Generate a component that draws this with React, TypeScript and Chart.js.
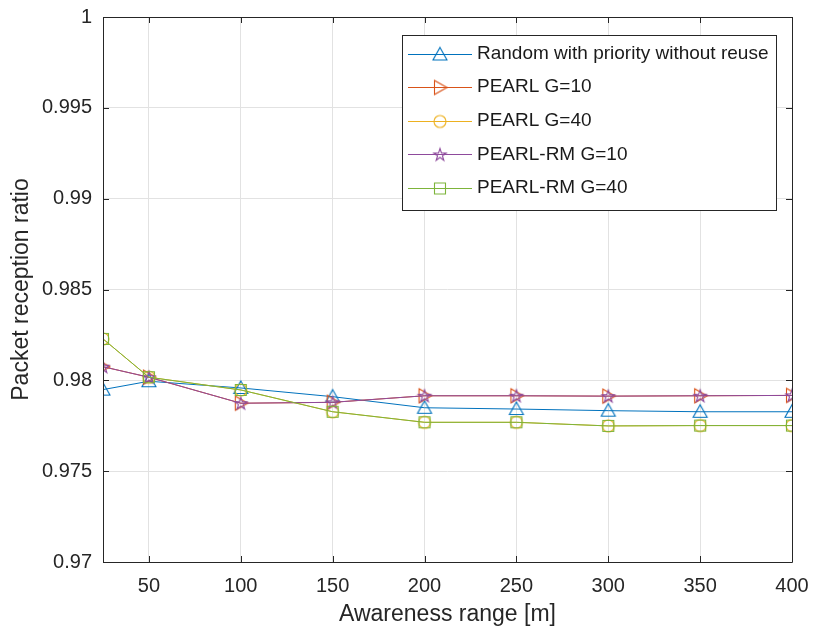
import React, { useEffect, useRef } from "react";
import { Chart, registerables } from "chart.js";

Chart.register(...registerables);

const awarenessRange = [25, 50, 100, 150, 200, 250, 300, 350, 400];
const randomPriority = [0.97949, 0.97995, 0.97958, 0.9791, 0.97849, 0.97842, 0.97833, 0.97827, 0.97827];
const pearlG10 = [0.98075, 0.98017, 0.97874, 0.97879, 0.97915, 0.97915, 0.97913, 0.97915, 0.97917];
const pearlG40 = [0.98228, 0.98017, 0.97947, 0.97827, 0.97769, 0.97769, 0.97749, 0.97751, 0.97751];
const pearlRMG10 = [0.98075, 0.98017, 0.97874, 0.97879, 0.97915, 0.97915, 0.97913, 0.97915, 0.97917];
const pearlRMG40 = [0.98228, 0.98017, 0.97947, 0.97827, 0.97769, 0.97769, 0.97749, 0.97751, 0.97751];

const seriesNames = [
  "Random with priority without reuse",
  "PEARL G=10",
  "PEARL G=40",
  "PEARL-RM G=10",
  "PEARL-RM G=40",
];
const seriesColors = ["#0072BD", "#D95319", "#EDB120", "#8E4A9C", "#7DB43A"];
const seriesMarkers = ["triUp", "triRight", "circle", "pentagram", "square"];

const xTicks = [50, 100, 150, 200, 250, 300, 350, 400];
const xTickLabels = ["50", "100", "150", "200", "250", "300", "350", "400"];
const yTicks = [0.97, 0.975, 0.98, 0.985, 0.99, 0.995, 1];
const yTickLabels = ["0.97", "0.975", "0.98", "0.985", "0.99", "0.995", "1"];

const FONT = "'Liberation Sans', Arial, Helvetica, sans-serif";
const AXIS_COLOR = "#262626";

function makeMarker(kind: string, color: string): HTMLCanvasElement {
  const c = document.createElement("canvas");
  c.width = 22;
  c.height = 22;
  const ctx = c.getContext("2d")!;
  ctx.strokeStyle = color;
  ctx.lineWidth = 1.1;
  ctx.lineJoin = "miter";
  const cx = 11, cy = 11;
  ctx.beginPath();
  if (kind === "triUp") {
    ctx.moveTo(cx, cy - 7);
    ctx.lineTo(cx + 7, cy + 5.5);
    ctx.lineTo(cx - 7, cy + 5.5);
    ctx.closePath();
  } else if (kind === "triRight") {
    ctx.moveTo(cx + 7, cy);
    ctx.lineTo(cx - 5.5, cy + 7);
    ctx.lineTo(cx - 5.5, cy - 7);
    ctx.closePath();
  } else if (kind === "circle") {
    ctx.arc(cx, cy, 6, 0, Math.PI * 2);
  } else if (kind === "square") {
    ctx.rect(cx - 5.5, cy - 5.5, 11, 11);
  } else if (kind === "pentagram") {
    const R = 6.5, r = R * 0.382;
    for (let i = 0; i < 10; i++) {
      const a = -Math.PI / 2 + (i * Math.PI) / 5;
      const rad = i % 2 === 0 ? R : r;
      const px = cx + rad * Math.cos(a), py = cy + 0.5 + rad * Math.sin(a);
      if (i === 0) ctx.moveTo(px, py);
      else ctx.lineTo(px, py);
    }
    ctx.closePath();
  }
  ctx.stroke();
  return c;
}

export default function App() {
  const ref = useRef<HTMLCanvasElement | null>(null);

  useEffect(() => {
    document.body.style.margin = "0";
    const canvas = ref.current!;
    const markers = seriesMarkers.map((m, i) => makeMarker(m, seriesColors[i]));
    const seriesData = [randomPriority, pearlG10, pearlG40, pearlRMG10, pearlRMG40];

    const boxPlugin = {
      id: "matlabBox",
      afterDraw(chart: any) {
        const { ctx, chartArea } = chart;
        const { left, right, top, bottom } = chartArea;
        const xs = chart.scales.x;
        const ys = chart.scales.y;
        ctx.save();
        ctx.strokeStyle = AXIS_COLOR;
        ctx.lineWidth = 1;
        ctx.beginPath();
        ctx.rect(Math.round(left) + 0.5, Math.round(top) + 0.5, Math.round(right - left), Math.round(bottom - top));
        ctx.stroke();
        const tl = 6;
        ctx.beginPath();
        xTicks.forEach((v) => {
          const px = Math.round(xs.getPixelForValue(v)) + 0.5;
          ctx.moveTo(px, bottom);
          ctx.lineTo(px, bottom - tl);
          ctx.moveTo(px, top);
          ctx.lineTo(px, top + tl);
        });
        yTicks.forEach((v) => {
          const py = Math.round(ys.getPixelForValue(v)) + 0.5;
          ctx.moveTo(left, py);
          ctx.lineTo(left + tl, py);
          ctx.moveTo(right, py);
          ctx.lineTo(right - tl, py);
        });
        ctx.stroke();

        // legend
        const lx = 402.5, ly = 35.5, lw = 374, lh = 175;
        ctx.fillStyle = "#ffffff";
        ctx.fillRect(lx, ly, lw, lh);
        ctx.strokeStyle = AXIS_COLOR;
        ctx.strokeRect(lx, ly, lw, lh);
        ctx.font = `19px ${FONT}`;
        ctx.textBaseline = "middle";
        ctx.textAlign = "left";
        seriesNames.forEach((name, i) => {
          const y = 53.5 + i * 33.6;
          ctx.strokeStyle = seriesColors[i];
          ctx.lineWidth = 1;
          ctx.beginPath();
          ctx.moveTo(408, Math.round(y) + 0.5);
          ctx.lineTo(472, Math.round(y) + 0.5);
          ctx.stroke();
          const m = markers[i];
          ctx.drawImage(m, 440 - m.width / 2, Math.round(y) + 0.5 - m.height / 2);
          ctx.fillStyle = "#1a1a1a";
          ctx.fillText(name, 477, y);
        });
        ctx.restore();
      },
    };

    const chart = new Chart(canvas, {
      type: "line",
      data: {
        datasets: seriesData.map((vals, i) => ({
          label: seriesNames[i],
          data: awarenessRange.map((x, j) => ({ x, y: vals[j] })),
          borderColor: seriesColors[i],
          backgroundColor: seriesColors[i],
          borderWidth: 1,
          pointStyle: markers[i] as any,
          pointRadius: 7,
          tension: 0,
          fill: false,
          order: 5 - i,
        })),
      },
      options: {
        responsive: false,
        animation: false,
        devicePixelRatio: 1,
        layout: { padding: { top: 17, right: 22, left: 0, bottom: 0 } },
        plugins: {
          legend: { display: false },
          tooltip: { enabled: false },
        },
        scales: {
          x: {
            type: "linear",
            min: 25,
            max: 400,
            afterBuildTicks: (s: any) => {
              s.ticks = xTicks.map((v) => ({ value: v }));
            },
            afterFit: (s: any) => {
              s.height = 66;
              s.paddingLeft = 0;
              s.paddingRight = 0;
            },
            ticks: {
              callback: (_v: any, i: number) => xTickLabels[i],
              font: { family: FONT, size: 20 },
              color: AXIS_COLOR,
              padding: 12,
              maxRotation: 0,
              autoSkip: false,
            },
            grid: { color: "#e2e2e2", drawTicks: false, lineWidth: 1 },
            border: { display: false },
            title: {
              display: true,
              text: "Awareness range [m]",
              font: { family: FONT, size: 23 },
              color: AXIS_COLOR,
              padding: { top: 0, bottom: 0 },
            },
          },
          y: {
            type: "linear",
            min: 0.97,
            max: 1,
            afterBuildTicks: (s: any) => {
              s.ticks = yTicks.map((v) => ({ value: v }));
            },
            afterFit: (s: any) => {
              s.width = 103;
              s.paddingTop = 0;
              s.paddingBottom = 0;
            },
            ticks: {
              callback: (_v: any, i: number) => yTickLabels[i],
              font: { family: FONT, size: 20 },
              color: AXIS_COLOR,
              padding: 11,
              autoSkip: false,
            },
            grid: { color: "#e2e2e2", drawTicks: false, lineWidth: 1 },
            border: { display: false },
            title: {
              display: true,
              text: "Packet reception ratio",
              font: { family: FONT, size: 23 },
              color: AXIS_COLOR,
              padding: { top: 8, bottom: 0 },
            },
          },
        },
      },
      plugins: [boxPlugin],
    });
    return () => chart.destroy();
  }, []);

  return (
    <div style={{ width: 814, height: 628, background: "#fff" }}>
      <canvas ref={ref} width={814} height={628} style={{ width: 814, height: 628, display: "block" }} />
    </div>
  );
}
